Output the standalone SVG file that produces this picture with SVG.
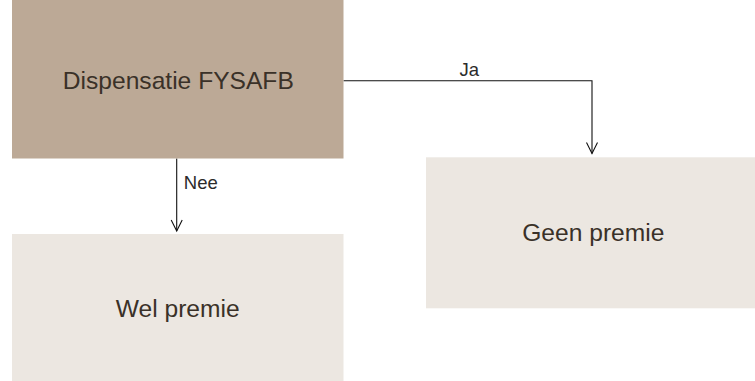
<svg xmlns="http://www.w3.org/2000/svg" width="755" height="381" viewBox="0 0 755 381">
<style>
.t{font-family:"Liberation Sans",Arial,sans-serif;fill:#3a3128;text-anchor:middle}
.big{font-size:24.6px}
.lbl{font-size:18.5px;fill:#2b2b2b}
.ln{fill:none;stroke:#111;stroke-width:1.1}
</style>
<rect width="755" height="381" fill="#ffffff"/>
<g id="connectors">
<path class="ln" d="M176.7,158.5 V231"/>
<path class="ln" d="M171.2,220 L176.7,231 L182.2,220"/>
<text class="t lbl" x="200.8" y="189.3">Nee</text>
<path class="ln" d="M343.5,80.7 H592 V153.5"/>
<path class="ln" d="M586.5,142.5 L592,153.5 L597.5,142.5"/>
<text class="t lbl" x="469.3" y="75.7">Ja</text>
</g>
<g id="node-dispensatie">
<rect x="12" y="0" width="331.5" height="158.5" fill="#bca996"/>
<text class="t big" x="178.3" y="89.3">Dispensatie FYSAFB</text>
</g>
<g id="node-wel">
<rect x="12" y="234" width="331.5" height="147" fill="#ece7e1"/>
<text class="t big" x="177.7" y="316.7">Wel premie</text>
</g>
<g id="node-geen">
<rect x="426" y="157.3" width="329" height="151" fill="#ece7e1"/>
<text class="t big" x="593.3" y="240.7">Geen premie</text>
</g>
</svg>
